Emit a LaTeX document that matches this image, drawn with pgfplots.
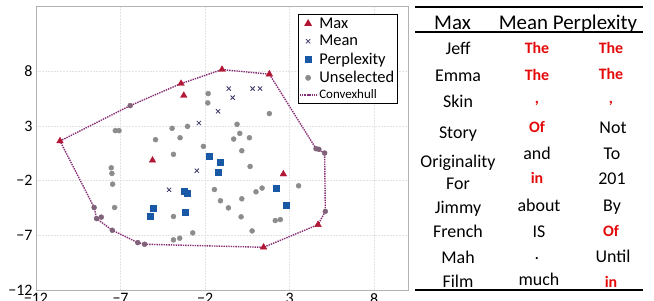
\documentclass[border=0pt]{standalone}
\usepackage{fontspec}
\setmainfont{Carlito}
\usepackage{pgfplots}
\pgfplotsset{compat=1.18}
\definecolor{maxred}{RGB}{178,22,52}
\definecolor{meanblue}{RGB}{55,55,105}
\definecolor{perpblue}{RGB}{25,88,165}
\definecolor{unsgray}{RGB}{140,140,140}
\definecolor{hullpt}{RGB}{128,98,122}
\definecolor{hullcol}{RGB}{135,45,115}
\definecolor{tred}{RGB}{228,10,10}
\newcommand{\rw}[1]{\fontsize{18}{18}\selectfont #1}
\newcommand{\rr}[1]{\fontsize{16}{16}\selectfont\bfseries\color{tred}#1}
\begin{document}
\begin{tikzpicture}[x=1bp,y=1bp]
\useasboundingbox (0,0) rectangle (654,300);
\begin{axis}[
  at={(36bp,10bp)}, anchor=south west,
  width=372bp, height=284bp, scale only axis,
  xmin=-12, xmax=10, ymin=-12, ymax=14,
  xtick={-12,-7,-2,3,8}, xticklabels={−12,−7,−2,3,8},
  ytick={-12,-7,-2,3,8}, yticklabels={−12,−7,−2,3,8},
  ticklabel style={font=\fontsize{16}{16}\selectfont},
  major tick length=0pt,
  grid=major,
  grid style={draw=gray!22, line width=0.6bp, dash pattern=on 2bp off 1bp},
  axis line style={draw=gray!60, line width=0.8bp},
  legend style={at={(axis description cs:0.703,0.971)}, anchor=north west,
    draw=black, line width=0.8bp, font=\fontsize{16.5}{16.5}\selectfont,
    row sep=1.6bp, inner sep=1bp, fill=white},
  legend cell align=left,
]
\addplot[hullcol, line width=1.4bp, densely dotted, forget plot] coordinates {
(-10.58,1.64) (-6.43,4.88) (-3.42,6.90) (-1.00,8.18) (1.80,7.76)
(4.56,0.94) (5.07,0.54) (5.11,-4.80) (4.68,-6.02) (1.46,-8.09)
(-5.58,-7.81) (-5.98,-7.66) (-7.49,-6.53) (-8.42,-5.46) (-8.56,-4.45) (-10.58,1.64)};
\addplot[only marks, mark=*, mark size=2.5bp, hullpt, forget plot] coordinates {
(-6.43,4.88) (4.56,0.94) (4.73,0.88) (5.07,0.54) (5.11,-4.80)
(-5.58,-7.81) (-5.98,-7.66) (-7.49,-6.53) (-8.42,-5.46) (-8.14,-5.33) (-8.56,-4.45)};
\addplot[only marks, mark=triangle*, mark size=3.8bp, maxred] coordinates {
(-10.58,1.64) (-3.42,6.90) (-3.26,5.80) (-1.00,8.18) (1.80,7.76)
(-5.11,-0.13) (2.63,-1.39) (4.68,-6.02) (1.46,-8.09)};
\addlegendentry{Max}
\addplot[only marks, mark=x, mark size=3bp, line width=0.8bp, meanblue] coordinates {
(-0.60,6.44) (-0.37,5.61) (0.81,6.44) (1.25,6.44) (-1.23,4.36)
(-2.37,3.29) (-2.49,-1.08) (-4.13,-2.83)};
\addlegendentry{Mean}
\addplot[only marks, mark=square*, mark size=3bp, perpblue] coordinates {
(-1.78,0.29) (-1.11,-0.29) (-1.21,-1.24) (-3.26,-2.95) (-3.04,-3.13)
(-5.07,-4.51) (-5.25,-5.24) (-3.20,-4.87) (2.19,-2.70) (2.82,-4.23)};
\addlegendentry{Perplexity}
\addplot[only marks, mark=*, mark size=2.5bp, unsgray] coordinates {
(-7.31,2.59) (-7.09,2.59) (-4.93,1.76) (-3.95,2.80) (-3.48,1.94) (-3.04,2.98)
(-3.87,0.42) (-1.82,5.98) (-1.84,5.13) (-2.10,1.15) (-0.11,3.17) (0.05,2.34)
(-0.31,1.82) (0.62,1.94) (0.17,0.75) (1.80,4.15) (0.66,-0.69) (-7.55,-0.81)
(-7.51,-1.33) (-7.47,-2.31) (-7.35,-4.45) (-3.87,-5.27) (-3.87,-7.41) (-3.50,-7.26)
(-2.73,-6.77) (-1.45,-2.80) (-1.09,-3.83) (-0.62,-4.48) (0.17,-3.65) (0.13,-5.30)
(0.78,-6.59) (1.01,-3.01) (1.37,-2.67) (3.53,-2.46) (2.15,-5.64) (2.45,-5.55)};
\addlegendentry{Unselected}
\addlegendimage{hullcol, line width=1.4bp, densely dotted}
\addlegendentry{\fontsize{13}{13}\selectfont Convexhull}
\end{axis}
% table
\draw[line width=1.5bp] (415,293) -- (643,293);
\draw[line width=1.5bp] (415,268) -- (643,268);
\draw[line width=1.5bp] (415,10) -- (643,10);
\node[anchor=base, font=\fontsize{21}{21}\selectfont, inner sep=0] at (452.5,271) {Max};
\node[anchor=base, font=\fontsize{21}{21}\selectfont, inner sep=0] at (568,271) {Mean Perplexity};
\foreach \t/\b in {Jeff/54, Emma/81, Skin/107, Story/138, Originality/167, For/189, Jimmy/213, French/237, Mah/263, Film/287}
  {\node[anchor=base, inner sep=0] at (458,300-\b) {\rw{\t}};}
\node[anchor=base, inner sep=0] at (537,247) {\rr{The}};
\node[anchor=base, inner sep=0] at (537,220) {\rr{The}};
\node[anchor=base, inner sep=0] at (537,197) {\rr{,}};
\node[anchor=base, inner sep=0] at (537,168) {\rr{Of}};
\node[anchor=base, inner sep=0] at (537,141) {\rw{and}};
\node[anchor=base, inner sep=0] at (537,117) {\rr{in}};
\node[anchor=base, inner sep=0] at (539,89) {\rw{about}};
\node[anchor=base, inner sep=0] at (539,63) {\rw{IS}};
\node[anchor=base, inner sep=0] at (537,41) {\rw{.}};
\node[anchor=base, inner sep=0] at (539,15) {\rw{much}};
\node[anchor=base, inner sep=0] at (611,247) {\rr{The}};
\node[anchor=base, inner sep=0] at (611,221) {\rr{The}};
\node[anchor=base, inner sep=0] at (611,197) {\rr{,}};
\node[anchor=base, inner sep=0] at (613,167) {\rw{Not}};
\node[anchor=base, inner sep=0] at (612,141) {\rw{To}};
\node[anchor=base, inner sep=0] at (612,116) {\rw{201}};
\node[anchor=base, inner sep=0] at (612,89) {\rw{By}};
\node[anchor=base, inner sep=0] at (611,64) {\rr{Of}};
\node[anchor=base, inner sep=0] at (613,38) {\rw{Until}};
\node[anchor=base, inner sep=0] at (611,13) {\rr{in}};
\end{tikzpicture}
\end{document}
